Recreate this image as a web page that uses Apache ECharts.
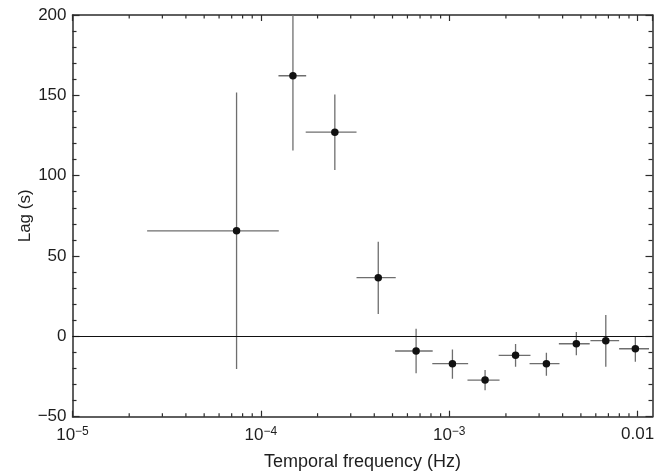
<!DOCTYPE html>
<html>
<head>
<meta charset="utf-8">
<script src="https://cdn.jsdelivr.net/npm/echarts@6/dist/echarts.min.js"></script>
<style>
  html, body { margin: 0; padding: 0; background: #fff; }
  #chart { width: 668px; height: 472px; }
</style>
</head>
<body>
<div id="chart"></div>
<script>
// 频率 (Hz) 与时滞 (s)，含误差范围
var freq   = [7.43e-5, 1.48e-4, 2.47e-4, 4.20e-4, 6.67e-4, 1.04e-3, 1.55e-3, 2.25e-3, 3.28e-3, 4.73e-3, 6.78e-3, 9.73e-3];
var freqLo = [2.49e-5, 1.24e-4, 1.73e-4, 3.22e-4, 5.16e-4, 8.13e-4, 1.25e-3, 1.83e-3, 2.67e-3, 3.82e-3, 5.62e-3, 7.98e-3];
var freqHi = [1.245e-4, 1.74e-4, 3.22e-4, 5.20e-4, 8.17e-4, 1.26e-3, 1.85e-3, 2.70e-3, 3.85e-3, 5.57e-3, 7.98e-3, 1.15e-2];
var lag    = [65.7, 162.2, 127.1, 36.5, -9.1, -17.0, -27.2, -11.8, -17.0, -4.6, -2.7, -7.7];
var lagLo  = [-20.3, 115.7, 103.5, 13.9, -23.0, -26.4, -33.6, -18.9, -24.5, -11.8, -18.9, -15.8];
var lagHi  = [151.8, 208.7, 150.6, 58.9, 4.7, -8.1, -21.0, -4.8, -10.2, 2.7, 13.3, -0.2];

// 对数轴刻度
var xMin = 1e-5, xMax = 0.012;
var xMinorTicks = [2e-5, 3e-5, 4e-5, 5e-5, 6e-5, 7e-5, 8e-5, 9e-5,
                   2e-4, 3e-4, 4e-4, 5e-4, 6e-4, 7e-4, 8e-4, 9e-4,
                   2e-3, 3e-3, 4e-3, 5e-3, 6e-3, 7e-3, 8e-3, 9e-3];
var xTickLabels = { "-5": "10{sup|\u22125}", "-4": "10{sup|\u22124}", "-3": "10{sup|\u22123}", "-2": "0.01" };

var AXIS_COLOR = "#2b2b2b";
var TEXT_COLOR = "#1e1e1e";
var FONT = "Liberation Sans, Arial, sans-serif";

var chart = echarts.init(document.getElementById("chart"));

var errData = freq.map(function (f, i) {
  return [f, lag[i], freqLo[i], freqHi[i], lagLo[i], lagHi[i]];
});

function xLabel(v) {
  var e = Math.round(Math.log(v) / Math.LN10);
  if (Math.abs(Math.log(v) / Math.LN10 - e) > 1e-6) return "";
  return xTickLabels[String(e)] || "";
}

var option = {
  animation: false,
  backgroundColor: "#fff",
  grid: { left: 72.5, right: 15.5, top: 15, bottom: 55.3, outerBoundsMode: "none" },
  xAxis: [{
    type: "log", logBase: 10, min: xMin, max: xMax,
    position: "bottom",
    name: "Temporal frequency (Hz)", nameLocation: "middle", nameGap: 36, nameMoveOverlap: false,
    nameTextStyle: { color: TEXT_COLOR, fontSize: 18, fontFamily: FONT },
    axisLine: { onZero: false, lineStyle: { color: AXIS_COLOR, width: 1.5 } },
    axisTick: { inside: true, length: 6, lineStyle: { color: AXIS_COLOR, width: 1.2 } },
    axisLabel: {
      color: TEXT_COLOR, fontSize: 17, fontFamily: FONT, margin: 9,
      formatter: xLabel, showMaxLabel: false,
      rich: { sup: { fontSize: 12, verticalAlign: "top", padding: [0, 0, 7, 0], color: TEXT_COLOR, fontFamily: FONT } }
    },
    splitLine: { show: false }
  }, {
    type: "log", logBase: 10, min: xMin, max: xMax,
    position: "top",
    axisLine: { onZero: false, lineStyle: { color: AXIS_COLOR, width: 1.5 } },
    axisTick: { inside: true, length: 6, lineStyle: { color: AXIS_COLOR, width: 1.2 } },
    axisLabel: { show: false },
    splitLine: { show: false }
  }],
  yAxis: [{
    type: "value", min: -50, max: 200, interval: 50,
    name: "Lag (s)", nameLocation: "middle", nameGap: 39, nameRotate: 90, nameMoveOverlap: false,
    nameTextStyle: { color: TEXT_COLOR, fontSize: 17, fontFamily: FONT },
    axisLine: { show: true, onZero: false, lineStyle: { color: AXIS_COLOR, width: 1.5 } },
    axisTick: { show: true, inside: true, length: 7, lineStyle: { color: AXIS_COLOR, width: 1.2 } },
    minorTick: { show: true, splitNumber: 5, length: 4, lineStyle: { color: AXIS_COLOR, width: 1.2 } },
    axisLabel: {
      color: TEXT_COLOR, fontSize: 17, fontFamily: FONT, margin: 6,
      formatter: function (v) { return v < 0 ? "\u2212" + Math.abs(v) : String(v); }
    },
    splitLine: { show: false }
  }, {
    type: "value", min: -50, max: 200, interval: 50, position: "right",
    axisLine: { show: true, onZero: false, lineStyle: { color: AXIS_COLOR, width: 1.5 } },
    axisTick: { show: true, inside: true, length: 7, lineStyle: { color: AXIS_COLOR, width: 1.2 } },
    minorTick: { show: true, splitNumber: 5, length: 4, lineStyle: { color: AXIS_COLOR, width: 1.2 } },
    axisLabel: { show: false },
    splitLine: { show: false }
  }],
  series: [{
    // x 轴对数次刻度（上下两边）
    type: "custom",
    xAxisIndex: 0, yAxisIndex: 0,
    silent: true,
    data: xMinorTicks.map(function (v) { return [v]; }),
    renderItem: function (params, api) {
      var b = api.coord([api.value(0), -50]);
      var t = api.coord([api.value(0), 200]);
      var st = { stroke: AXIS_COLOR, lineWidth: 1.2 };
      return {
        type: "group",
        children: [
          { type: "line", shape: { x1: b[0], y1: b[1], x2: b[0], y2: b[1] - 3.5 }, style: st },
          { type: "line", shape: { x1: t[0], y1: t[1], x2: t[0], y2: t[1] + 3.5 }, style: st }
        ]
      };
    },
    z: 3
  }, {
    // 误差棒
    type: "custom",
    xAxisIndex: 0, yAxisIndex: 0,
    clip: true,
    data: errData,
    renderItem: function (params, api) {
      var c = api.coord([api.value(0), api.value(1)]);
      var l = api.coord([api.value(2), api.value(1)]);
      var r = api.coord([api.value(3), api.value(1)]);
      var lo = api.coord([api.value(0), api.value(4)]);
      var hi = api.coord([api.value(0), api.value(5)]);
      var st = { stroke: "#6e6e6e", lineWidth: 1.3 };
      return {
        type: "group",
        children: [
          { type: "line", shape: { x1: l[0], y1: c[1], x2: r[0], y2: c[1] }, style: st },
          { type: "line", shape: { x1: c[0], y1: lo[1], x2: c[0], y2: hi[1] }, style: st }
        ]
      };
    },
    markLine: {
      silent: true, symbol: ["none", "none"], label: { show: false },
      lineStyle: { color: "#111", width: 1.2, type: "solid" },
      data: [{ yAxis: 0 }]
    },
    z: 2
  }, {
    type: "scatter",
    xAxisIndex: 0, yAxisIndex: 0,
    data: freq.map(function (f, i) { return [f, lag[i]]; }),
    symbol: "circle", symbolSize: 7.5,
    itemStyle: { color: "#111", opacity: 1 },
    z: 4
  }]
};

chart.setOption(option);
</script>
</body>
</html>
